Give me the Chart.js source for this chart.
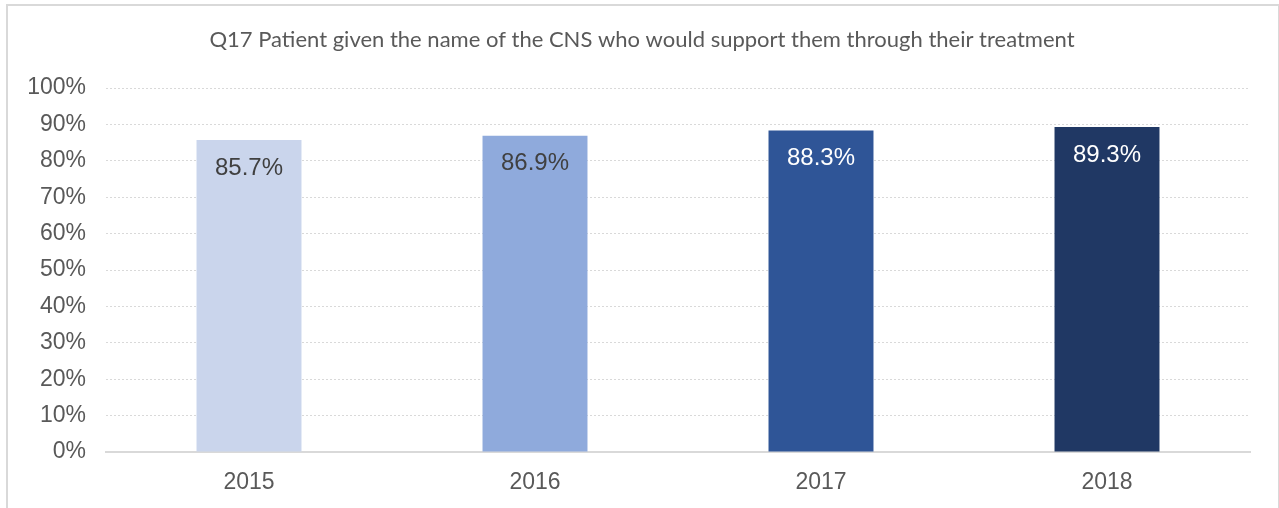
<!DOCTYPE html>
<html>
<head>
<meta charset="utf-8">
<script src="https://cdn.jsdelivr.net/npm/chart.js@4"></script>
<style>
  html, body { margin: 0; padding: 0; background: #fff; }
  #frame { position: absolute; left: 6px; top: 4px; width: 1270px; height: 520px; border: 2px solid #d9d9d9; }
  #wrap { position: absolute; left: 0; top: 0; width: 1279px; height: 508px; }
</style>
</head>
<body>
<div id="frame"></div>
<div id="wrap"><canvas id="myChart" width="1279" height="508"></canvas></div>
<script>
const titulo = "Q17 Patient given the name of the CNS who would support them through their treatment";
const anios = ["2015", "2016", "2017", "2018"];
const valores = [85.7, 86.9, 88.3, 89.3];
const colores = ["#CAD5EC", "#8FAADC", "#2F5597", "#203864"];
const coloresEtiqueta = ["#404040", "#404040", "#ffffff", "#ffffff"];

// titulo centrado sobre el marco y etiquetas dentro de la barra
const etiquetas = {
  id: "etiquetas",
  afterDatasetsDraw(chart) {
    const ctx = chart.ctx;
    const meta = chart.getDatasetMeta(0);
    ctx.save();
    ctx.textAlign = "center";
    ctx.textBaseline = "middle";
    ctx.font = "22px Lato, 'Open Sans', sans-serif";
    ctx.fillStyle = "#595959";
    ctx.fillText(titulo, 642, 40);
    ctx.font = "24px 'Liberation Sans', Arial, sans-serif";
    meta.data.forEach((bar, i) => {
      ctx.fillStyle = coloresEtiqueta[i];
      ctx.fillText(valores[i].toFixed(1) + "%", bar.x, bar.y + 28);
    });
    ctx.restore();
  },
};

document.addEventListener("DOMContentLoaded", function () {
  var ctx = document.getElementById("myChart").getContext("2d");
  var myChart = new Chart(ctx, {
    type: "bar",
    data: {
      labels: anios,
      datasets: [
        {
          data: valores,
          backgroundColor: colores,
          categoryPercentage: 1,
          barPercentage: 0.367,
        },
      ],
    },
    options: {
      responsive: false,
      animation: false,
      layout: { padding: { left: 0, right: 29, top: 88, bottom: 0 } },
      scales: {
        x: {
          grid: { display: false, drawTicks: false },
          border: { display: true, color: "#d9d9d9", width: 2 },
          ticks: {
            color: "#595959",
            padding: 17,
            font: { family: "'Liberation Sans', Arial, sans-serif", size: 23 },
          },
          afterFit: function (scale) {
            scale.height = 56;
          },
        },
        y: {
          min: 0,
          max: 100,
          ticks: {
            stepSize: 10,
            color: "#595959",
            padding: 20,
            font: { family: "'Liberation Sans', Arial, sans-serif", size: 23 },
            callback: function (v) {
              return v + "%";
            },
          },
          grid: { color: "#d9d9d9", lineWidth: 1, drawTicks: false },
          border: { display: false, dash: [2, 2] },
          afterFit: function (scale) {
            scale.width = 106;
          },
        },
      },
      plugins: {
        legend: { display: false },
        tooltip: { enabled: false },
        title: { display: false },
      },
    },
    plugins: [etiquetas],
  });
});
</script>
</body>
</html>
